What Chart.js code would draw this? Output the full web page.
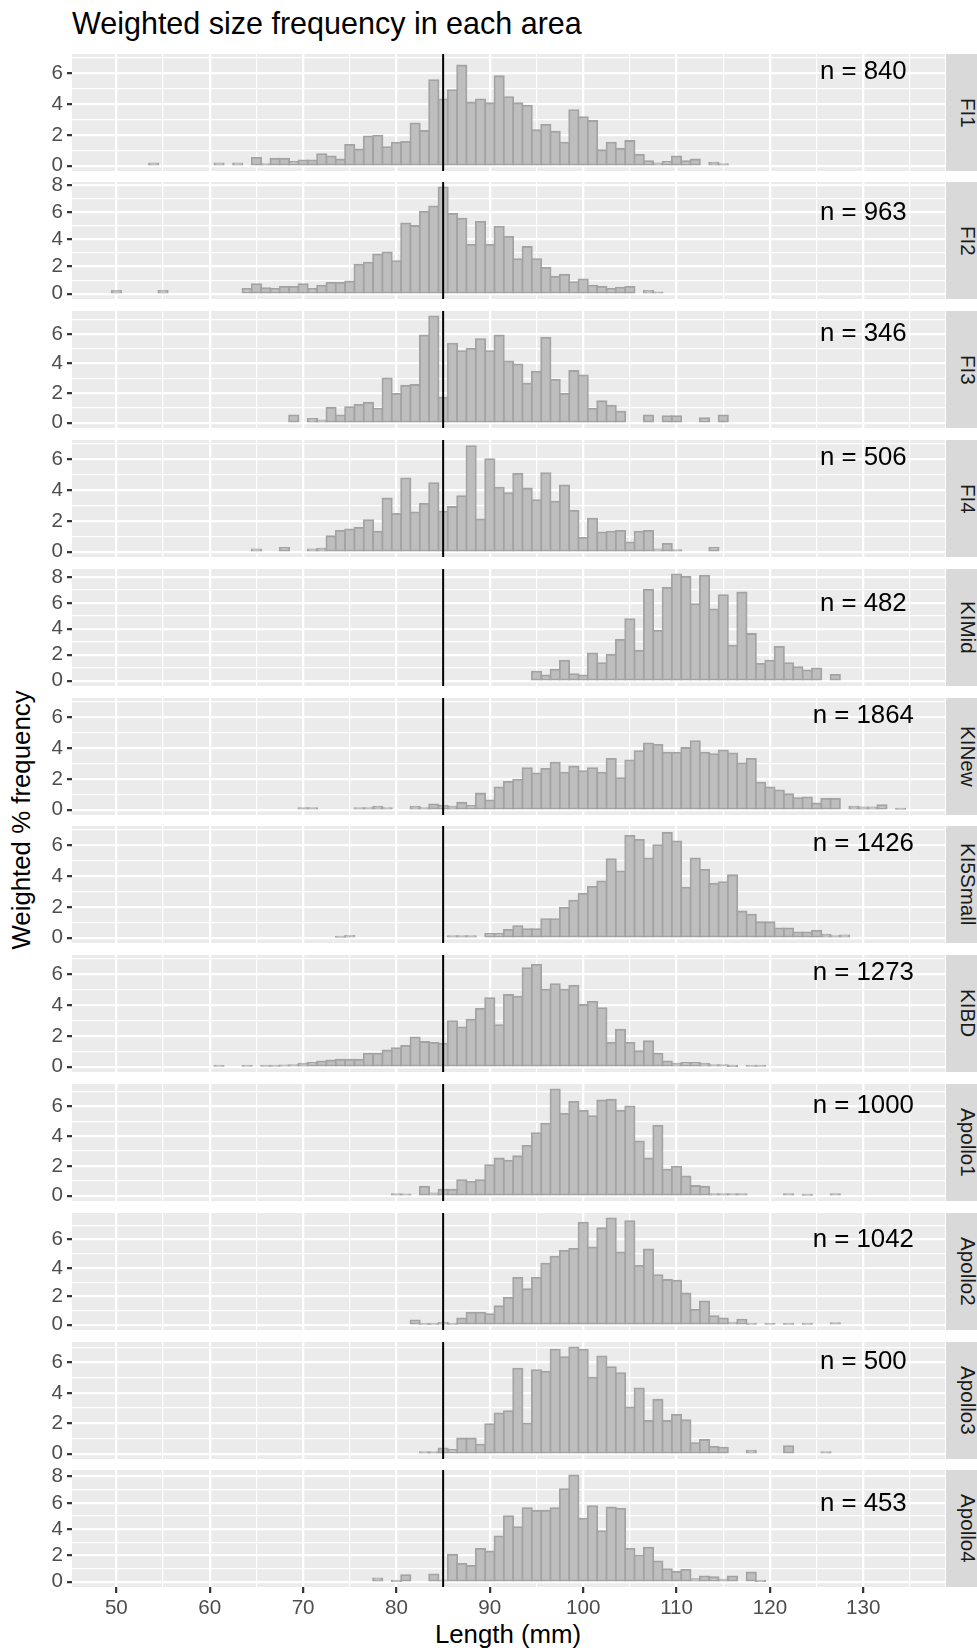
<!DOCTYPE html>
<html>
<head>
<meta charset="utf-8">
<script src="https://cdn.jsdelivr.net/npm/chart.js@4.4.1/dist/chart.umd.min.js"></script>
<style>
  html, body { margin: 0; padding: 0; background: #ffffff; }
  #page { position: relative; width: 977px; height: 1651px; overflow: hidden;
          font-family: 'Liberation Sans', Arial, sans-serif; }
  #page canvas { position: absolute; left: 0; }
  .strip { position: absolute; left: 946px; width: 43px; background: #D9D9D9; color: #1A1A1A;
           font-size: 20.6px; display: flex; align-items: center; justify-content: center; }
  .strip span { writing-mode: vertical-rl; white-space: nowrap; }
  #title { position: absolute; left: 72px; top: 8px; font-size: 30.5px; line-height: 31px;
           color: #000; white-space: nowrap; }
  #xtitle { position: absolute; left: 208px; width: 600px; top: 1621px; font-size: 25.8px;
            line-height: 26px; text-align: center; color: #000; }
  #ytitle { position: absolute; left: -179px; width: 400px; top: 807px; height: 26px;
            font-size: 25.8px; line-height: 26px; text-align: center; color: #000;
            transform: rotate(-90deg); transform-origin: 50% 50%; white-space: nowrap; }
</style>
</head>
<body>
<div id="page">
  <div id="title">Weighted size frequency in each area</div>
  <div id="ytitle">Weighted % frequency</div>
  <div id="xtitle">Length (mm)</div>
</div>
<script>
// Areas, sample sizes and the first 1-mm length bin of each area
const areas = ['FI1', 'FI2', 'FI3', 'FI4', 'KIMid', 'KINew', 'KI5Small', 'KIBD',
               'Apollo1', 'Apollo2', 'Apollo3', 'Apollo4'];
const sampleSizes = [840, 963, 346, 506, 482, 1864, 1426, 1273, 1000, 1042, 500, 453];
const firstBin = [54, 50, 69, 65, 95, 70, 74, 61, 80, 82, 83, 78];

// Weighted % frequency per 1-mm bin, consecutive lengths starting at firstBin
const fi1 = [0.15, 0, 0, 0, 0, 0, 0, 0.15, 0, 0.15, 0,
  0.5, 0.1, 0.45, 0.45, 0.25, 0.35, 0.35, 0.75, 0.6, 0.4,
  1.35, 1.05, 1.9, 1.95, 1.2, 1.5, 1.55, 2.75, 2.25, 5.55,
  4.3, 4.9, 6.5, 4.1, 4.3, 4.05, 5.8, 4.45, 4.05, 3.9,
  2.3, 2.65, 2.2, 1.5, 3.6, 3.15, 2.9, 1.0, 1.5, 1.1,
  1.6, 0.7, 0.3, 0.15, 0.25, 0.6, 0.3, 0.4, 0, 0.2, 0.1];
const fi2 = [0.2, 0, 0, 0, 0, 0.2, 0, 0, 0, 0, 0, 0, 0, 0,
  0.35, 0.7, 0.4, 0.35, 0.5, 0.5, 0.7, 0.35, 0.6, 0.8, 0.8,
  0.9, 2.15, 2.3, 2.9, 3.05, 2.4, 5.2, 5.0, 6.05, 6.45,
  7.86, 5.9, 5.55, 3.6, 5.3, 3.6, 4.95, 4.2, 2.55, 3.45,
  2.55, 1.9, 1.25, 1.4, 0.85, 1.05, 0.6, 0.5, 0.35, 0.45,
  0.5, 0, 0.2, 0.1];
const fi3 = [0.5, 0, 0.25, 0.15, 1.0, 0.5, 1.05, 1.2, 1.35, 0.95,
  3.0, 1.95, 2.5, 2.55, 5.9, 7.2, 1.7, 5.35, 4.85, 5.0,
  5.65, 4.85, 5.9, 4.15, 3.95, 2.65, 3.45, 5.75, 2.9, 1.95,
  3.5, 3.2, 0.95, 1.45, 1.15, 0.75, 0, 0, 0.5, 0,
  0.45, 0.45, 0, 0, 0.3, 0, 0.5];
const fi4 = [0.15, 0, 0, 0.25, 0, 0, 0.15, 0.2, 1.0, 1.35,
  1.45, 1.55, 2.05, 1.3, 3.45, 2.45, 4.75, 2.55, 3.1, 4.45,
  2.6, 2.9, 3.6, 6.85, 2.1, 6.0, 4.15, 3.8, 5.05, 4.1,
  3.35, 5.1, 3.25, 4.3, 2.65, 0.9, 2.15, 1.25, 1.3, 1.35,
  0.6, 1.3, 1.35, 0.15, 0.5, 0.1, 0, 0, 0, 0.25];
const kiMid = [0.7, 0.4, 0.85, 1.55, 0.5, 0.4, 2.1, 1.35, 2.0, 3.15,
  4.75, 2.3, 7.0, 3.85, 7.15, 8.2, 8.0, 5.9, 8.1, 5.5,
  6.6, 2.7, 6.8, 3.6, 1.3, 1.55, 2.6, 1.35, 1.05, 0.8,
  0.95, 0, 0.45];
const kiNew = [0.1, 0.1, 0, 0, 0, 0, 0.1, 0.1, 0.2, 0.1,
  0, 0, 0.2, 0.1, 0.35, 0.25, 0.2, 0.45, 0.25, 1.05,
  0.6, 1.45, 1.8, 1.95, 2.7, 2.35, 2.65, 3.05, 2.4, 2.8,
  2.5, 2.7, 2.4, 3.3, 2.05, 3.2, 3.8, 4.3, 4.2, 3.7,
  3.7, 4.0, 4.45, 3.7, 3.6, 3.85, 3.65, 3.0, 3.3, 1.75,
  1.45, 1.25, 1.0, 0.75, 0.8, 0.4, 0.7, 0.7, 0, 0.2,
  0.15, 0.15, 0.3, 0, 0.05];
const ki5Small = [0.05, 0.12, 0, 0, 0, 0, 0, 0, 0, 0,
  0, 0, 0.1, 0.1, 0.1, 0, 0.25, 0.25, 0.5, 0.75,
  0.55, 0.55, 1.2, 1.2, 1.95, 2.4, 2.85, 3.3, 3.65, 5.1,
  4.3, 6.6, 6.35, 5.15, 6.0, 6.8, 6.25, 3.25, 5.15, 4.4,
  3.5, 3.6, 4.05, 1.7, 1.5, 1.0, 1.0, 0.6, 0.6, 0.35,
  0.35, 0.45, 0.2, 0.1, 0.15];
const kiBD = [0.05, 0, 0, 0.05, 0, 0.05, 0.05, 0.08, 0.1, 0.2,
  0.25, 0.35, 0.4, 0.45, 0.45, 0.45, 0.85, 0.85, 1.05, 1.2,
  1.35, 1.9, 1.6, 1.55, 1.5, 2.95, 2.55, 3.05, 3.75, 4.45,
  2.7, 4.65, 4.55, 6.4, 6.6, 5.0, 5.35, 5.0, 5.25, 4.0,
  4.2, 3.8, 1.55, 2.4, 1.55, 1.0, 1.65, 0.85, 0.35, 0.2,
  0.25, 0.25, 0.2, 0.1, 0.1, 0.03, 0, 0.05, 0.05];
const apollo1 = [0.1, 0.08, 0, 0.6, 0.15, 0.4, 0.4, 1.05, 0.95, 1.05,
  2.05, 2.5, 2.35, 2.65, 3.35, 4.2, 4.85, 7.15, 5.5, 6.3,
  5.7, 5.35, 6.4, 6.45, 5.7, 6.0, 3.65, 2.5, 4.7, 1.75,
  1.95, 1.3, 0.65, 0.6, 0.1, 0.1, 0.1, 0.1, 0, 0,
  0, 0, 0.1, 0, 0.05, 0, 0, 0.1];
const apollo2 = [0.3, 0.05, 0.05, 0.15, 0.05, 0.45, 0.85, 0.85,
  0.75, 1.3, 1.9, 3.3, 2.5, 3.3, 4.3, 4.8, 5.2, 5.35,
  7.2, 5.45, 6.8, 7.5, 5.1, 7.3, 4.15, 5.3, 3.5, 3.15,
  3.1, 2.2, 1.05, 1.65, 0.6, 0.45, 0.15, 0.35, 0.05, 0,
  0.05, 0, 0.05, 0, 0.05, 0, 0, 0.1];
const apollo3 = [0.1, 0.1, 0.35, 0.25, 1.0, 1.0, 0.6,
  1.95, 2.65, 2.8, 5.6, 2.0, 5.5, 5.4, 6.85, 6.35, 7.0,
  6.85, 5.0, 6.4, 5.7, 5.3, 3.05, 4.3, 2.15, 3.55, 2.15,
  2.55, 2.2, 0.7, 0.9, 0.45, 0.4, 0, 0, 0.2, 0,
  0, 0, 0.5, 0, 0, 0, 0.1];
const apollo4 = [0.25, 0, 0.05, 0.5, 0, 0, 0.55, 0.1, 2.05, 1.35, 1.2, 2.5,
  2.3, 3.45, 5.0, 4.15, 5.6, 5.4, 5.4, 5.6, 7.05, 8.1,
  4.8, 5.75, 3.85, 5.65, 5.55, 2.5, 2.0, 2.6, 1.55, 0.95,
  0.75, 0.9, 0.2, 0.4, 0.35, 0.15, 0.4, 0, 0.7, 0.05];

const binValues = [fi1, fi2, fi3, fi4, kiMid, kiNew, ki5Small, kiBD,
                   apollo1, apollo2, apollo3, apollo4];

// Axis breaks and reference values
const xMajorBreaks = [50, 60, 70, 80, 90, 100, 110, 120, 130];
const xMinorBreaks = [55, 65, 75, 85, 95, 105, 115, 125, 135];
const xLimits = [45.25, 138.75];
const referenceLength = 85;   // vertical marker
const labelLength = 130;      // x position of the "n = " labels
const labelHeight = 6.9;      // y position (top) of the "n = " labels

// Panel geometry
const panelLeft = 72;
const panelRight = 945;
const firstPanelTop = 53.5;
const panelPitch = 128.8;
const panelHeight = 117;
const FONT = "'Liberation Sans', Arial, sans-serif";

const panelBackground = {
  id: 'panelBackground',
  beforeDraw(chart) {
    const { ctx, chartArea: a } = chart;
    ctx.save();
    ctx.fillStyle = '#EBEBEB';
    ctx.fillRect(a.left, a.top, a.right - a.left, a.bottom - a.top);
    ctx.restore();
  }
};

const markerAndCount = {
  id: 'markerAndCount',
  afterDatasetsDraw(chart, args, opts) {
    const { ctx, chartArea: a, scales } = chart;
    const px = scales.x.getPixelForValue(referenceLength);
    ctx.save();
    ctx.strokeStyle = '#000000';
    ctx.lineWidth = 2;
    ctx.beginPath();
    ctx.moveTo(px, a.top);
    ctx.lineTo(px, a.bottom);
    ctx.stroke();
    ctx.fillStyle = '#000000';
    ctx.font = '25.8px ' + FONT;
    ctx.textAlign = 'center';
    ctx.textBaseline = 'top';
    ctx.fillText('n = ' + opts.n, scales.x.getPixelForValue(labelLength),
                 scales.y.getPixelForValue(labelHeight));
    ctx.restore();
  }
};

const page = document.getElementById('page');

areas.forEach((area, i) => {
  const isLast = i === areas.length - 1;
  const values = binValues[i];
  const points = values.map((v, k) => ({ x: firstBin[i] + k, y: v > 0 ? v : null }));
  const peak = Math.max(labelHeight, ...values);
  const yMin = -0.05 * peak;
  const yMax = 1.05 * peak;

  const top = Math.round(firstPanelTop + i * panelPitch);
  const padTop = 20;
  const padBottom = isLast ? 0 : 20;
  const axisHeight = isLast ? 46 : 0;

  const canvas = document.createElement('canvas');
  canvas.width = panelRight;
  canvas.height = padTop + panelHeight + padBottom + axisHeight;
  canvas.style.top = (top - padTop) + 'px';
  page.appendChild(canvas);

  const strip = document.createElement('div');
  strip.className = 'strip';
  strip.style.top = top + 'px';
  strip.style.height = panelHeight + 'px';
  strip.innerHTML = '<span>' + area + '</span>';
  page.appendChild(strip);

  new Chart(canvas, {
    type: 'bar',
    data: {
      datasets: [{
        data: points,
        backgroundColor: '#BEBEBE',
        borderColor: '#A3A3A3',
        borderWidth: 1.8,
        inflateAmount: 0.9,
        borderSkipped: false,
        barPercentage: 1,
        categoryPercentage: 1,
        grouped: false
      }]
    },
    options: {
      responsive: false,
      animation: false,
      devicePixelRatio: 1,
      events: [],
      layout: { padding: { top: padTop, bottom: padBottom, left: 0, right: 0 } },
      plugins: {
        legend: { display: false },
        tooltip: { enabled: false },
        markerAndCount: { n: sampleSizes[i] }
      },
      scales: {
        x: {
          type: 'linear',
          min: xLimits[0],
          max: xLimits[1],
          offset: false,
          afterBuildTicks: s => {
            s.ticks = xMajorBreaks.concat(xMinorBreaks).sort((a, b) => a - b).map(v => ({ value: v }));
          },
          afterFit: s => { s.height = axisHeight; },
          border: { display: false },
          grid: {
            offset: false,
            color: '#FFFFFF',
            lineWidth: c => (c.tick && xMajorBreaks.includes(c.tick.value)) ? 2.3 : 1.2,
            drawTicks: isLast,
            tickLength: 6,
            tickWidth: 2.2,
            tickColor: c => (c.tick && xMajorBreaks.includes(c.tick.value)) ? '#333333' : 'rgba(0,0,0,0)'
          },
          ticks: {
            display: isLast,
            autoSkip: false,
            maxRotation: 0,
            padding: 3,
            color: '#4D4D4D',
            font: { family: FONT, size: 20.6 },
            callback: v => xMajorBreaks.includes(v) ? String(v) : ''
          }
        },
        y: {
          type: 'linear',
          min: yMin,
          max: yMax,
          afterBuildTicks: s => {
            const t = [];
            for (let v = 0; v <= yMax; v++) t.push({ value: v });
            s.ticks = t;
          },
          afterFit: s => { s.width = panelLeft; },
          border: { display: false },
          grid: {
            color: '#FFFFFF',
            lineWidth: c => (c.tick && c.tick.value % 2 === 0) ? 2.3 : 1.2,
            tickLength: 5,
            tickWidth: 2.2,
            tickColor: c => (c.tick && c.tick.value % 2 === 0) ? '#333333' : 'rgba(0,0,0,0)'
          },
          ticks: {
            autoSkip: false,
            padding: 4,
            color: '#4D4D4D',
            font: { family: FONT, size: 20.6 },
            callback: v => (v % 2 === 0) ? String(v) : ''
          }
        }
      }
    },
    plugins: [panelBackground, markerAndCount]
  });
});
</script>
</body>
</html>
